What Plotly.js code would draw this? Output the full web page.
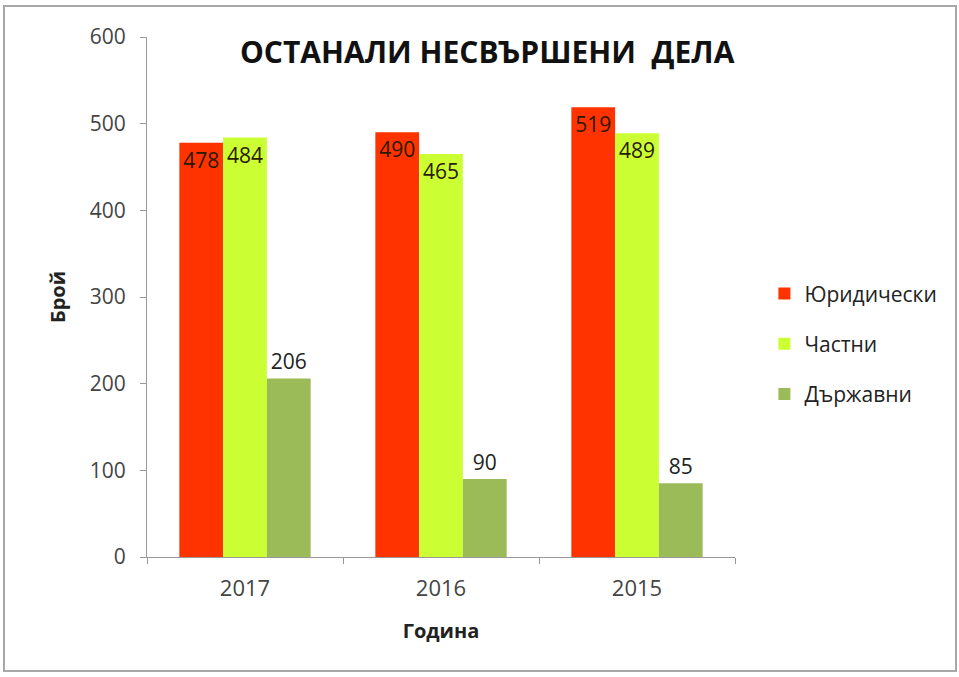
<!DOCTYPE html>
<html>
<head>
<meta charset="utf-8">
<script src="https://cdn.plot.ly/plotly-3.0.1.min.js"></script>
<style>
  body { margin: 0; background: #fff; }
  #graph { width: 959px; height: 677px; }
  #frame { position: absolute; left: 3px; top: 5px; width: 950px; height: 663px;
           border: 2px solid #a8a8a8; pointer-events: none; }
</style>
</head>
<body>
<div id="graph"></div>
<div id="frame"></div>
<script>
const years = ["2017", "2016", "2015"];
const legal = [478, 490, 519];
const privateCases = [484, 465, 489];
const state = [206, 90, 85];
const yTicks = [0, 100, 200, 300, 400, 500, 600];

const font = "Open Sans, DejaVu Sans, sans-serif";

const traces = [
  { name: "Юридически", y: legal, color: "#ff3300", pos: "inside" },
  { name: "Частни", y: privateCases, color: "#ccff33", pos: "inside" },
  { name: "Държавни", y: state, color: "#9bbb59", pos: "outside" }
].map((s, i) => ({
  type: "bar",
  x: years,
  y: s.y,
  name: s.name,
  legendgroup: "g" + i,
  marker: { color: s.color },
  text: s.y.map(String),
  textposition: s.pos,
  insidetextanchor: "end",
  textangle: 0,
  constraintext: "none",
  cliponaxis: false,
  textfont: { family: font, size: 21, color: "#222" },
  outsidetextfont: { family: font, size: 21, color: "#222" },
  insidetextfont: { family: font, size: 21, color: "#2a1a00" }
}));

Plotly.newPlot("graph", traces, {
  width: 959,
  height: 677,
  margin: { l: 147, r: 224, t: 37, b: 120 },
  paper_bgcolor: "#fff",
  plot_bgcolor: "#fff",
  barmode: "group",
  bargap: 0.33,
  bargroupgap: 0,
  title: {
    text: "<b>ОСТАНАЛИ НЕСВЪРШЕНИ  ДЕЛА</b>",
    font: { family: font, size: 30, color: "#111" },
    x: 0.508, xanchor: "center", y: 0.923, yanchor: "middle"
  },
  xaxis: {
    type: "category",
    showline: true, linecolor: "#999", linewidth: 1,
    ticks: "outside", tickson: "boundaries", ticklen: 6, tickcolor: "#999",
    ticklabelstandoff: 12,
    tickfont: { family: font, size: 22, color: "#444" },
    title: { text: "<b>Година</b>", font: { family: font, size: 20, color: "#222" }, standoff: 22 }
  },
  yaxis: {
    range: [0, 600],
    tickvals: yTicks,
    showgrid: false, zeroline: false,
    showline: true, linecolor: "#999", linewidth: 1,
    ticks: "outside", ticklen: 6, tickcolor: "#999",
    ticklabelstandoff: 10,
    tickfont: { family: font, size: 21, color: "#444" },
    title: { text: "<b>Брой</b>", font: { family: font, size: 20, color: "#222" }, standoff: 18 }
  },
  legend: {
    x: 1.05, xanchor: "left", y: 0.41, yanchor: "middle",
    font: { family: font, size: 21, color: "#222" },
    tracegroupgap: 20,
    itemwidth: 30
  },
  showlegend: true
}, { displayModeBar: false, staticPlot: true });
</script>
</body>
</html>
